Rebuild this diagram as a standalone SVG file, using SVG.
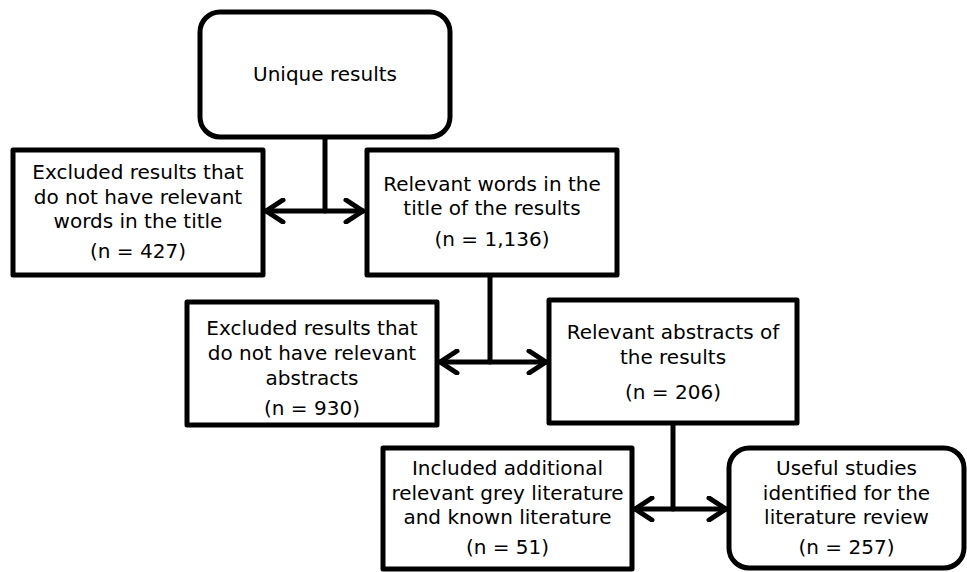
<svg xmlns="http://www.w3.org/2000/svg" width="967" height="572" viewBox="0 0 967 572">
<defs>
<style>
.box{fill:#fff;stroke:#000;stroke-width:5;stroke-linejoin:round}
.ln{fill:none;stroke:#000;stroke-width:5;stroke-linecap:round;stroke-linejoin:round}
text{font-family:"DejaVu Sans","Noto Sans",sans-serif;font-size:20px;fill:#000;text-anchor:middle}
</style>
<marker id="ah" viewBox="0 0 24 26" refX="20" refY="13" markerWidth="24" markerHeight="26" markerUnits="userSpaceOnUse" orient="auto-start-reverse">
<path d="M3,2 L20,13 L3,24" fill="none" stroke="#000" stroke-width="5" stroke-linecap="round" stroke-linejoin="round"/>
</marker>
</defs>
<g id="connectors">
<path class="ln" d="M325,137 V211"/>
<path class="ln" d="M266,211 H363" marker-start="url(#ah)" marker-end="url(#ah)"/>
<path class="ln" d="M490,275 V362"/>
<path class="ln" d="M440,362 H546" marker-start="url(#ah)" marker-end="url(#ah)"/>
<path class="ln" d="M673,423 V509"/>
<path class="ln" d="M635,509 H726" marker-start="url(#ah)" marker-end="url(#ah)"/>
</g>
<g id="unique">
<rect class="box" x="200" y="12" width="250" height="125" rx="20"/>
<text x="325" y="81">Unique results</text>
</g>
<g id="excluded-title">
<rect class="box" x="13" y="150" width="250" height="125"/>
<text x="138" y="179">Excluded results that</text>
<text x="138" y="204">do not have relevant</text>
<text x="138" y="228">words in the title</text>
<text x="138" y="258">(n = 427)</text>
</g>
<g id="relevant-title">
<rect class="box" x="367" y="150" width="250" height="125"/>
<text x="492" y="191">Relevant words in the</text>
<text x="492" y="215">title of the results</text>
<text x="492" y="246">(n = 1,136)</text>
</g>
<g id="excluded-abstracts">
<rect class="box" x="187" y="302" width="250" height="123"/>
<text x="312" y="335">Excluded results that</text>
<text x="312" y="360">do not have relevant</text>
<text x="312" y="385">abstracts</text>
<text x="312" y="415">(n = 930)</text>
</g>
<g id="relevant-abstracts">
<rect class="box" x="549" y="300" width="248" height="123"/>
<text x="673" y="339">Relevant abstracts of</text>
<text x="673" y="364">the results</text>
<text x="673" y="399">(n = 206)</text>
</g>
<g id="included">
<rect class="box" x="383" y="448" width="249" height="121"/>
<text x="507.5" y="475">Included additional</text>
<text x="507.5" y="500">relevant grey literature</text>
<text x="507.5" y="524">and known literature</text>
<text x="507.5" y="554">(n = 51)</text>
</g>
<g id="useful">
<rect class="box" x="729" y="448" width="235" height="120" rx="20"/>
<text x="846.5" y="475">Useful studies</text>
<text x="846.5" y="500">identified for the</text>
<text x="846.5" y="524">literature review</text>
<text x="846.5" y="554">(n = 257)</text>
</g>
</svg>
